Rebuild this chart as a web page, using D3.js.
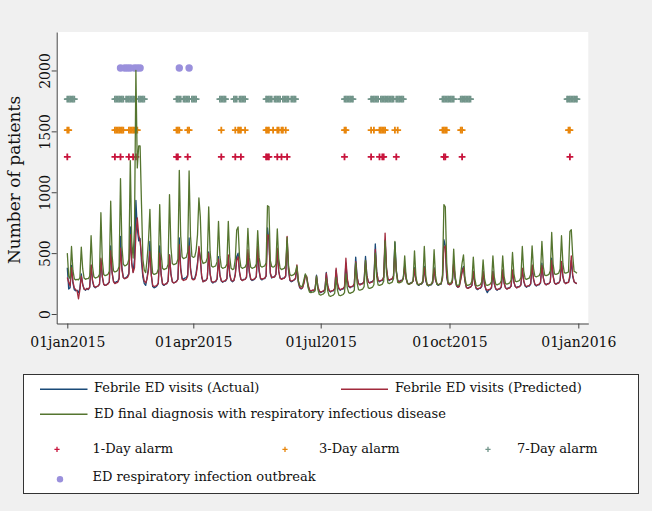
<!DOCTYPE html>
<html><head><meta charset="utf-8">
<script src="https://cdn.jsdelivr.net/npm/d3@7"></script>
<style>
body{margin:0;background:#f0f0f0}
svg{display:block}
text{font-family:"DejaVu Serif",serif;fill:#111}
</style>
</head><body>
<svg id="chart" width="652" height="511"></svg>
<script>
// ---------- DATA (daily, starting 01jan2015) ----------
const startYear = 2015;
const actual = [
380,205,215,
400,255,200,190,195,175,210,
330,240,205,195,210,200,220,
400,270,225,215,225,230,245,
445,305,245,235,240,250,260,
560,340,270,255,265,265,295,
637,385,300,290,300,310,335,
715,420,345,450,934,700,600,
620,430,300,250,235,300,385,
596,320,225,215,220,230,250,
560,330,245,235,245,250,270,
486,330,265,255,260,270,285,
624,380,295,285,295,300,320,
624,380,295,285,290,335,420,
540,470,300,265,275,275,295,
510,330,265,255,265,265,285,
472,320,270,260,270,270,290,
465,320,275,265,275,330,470,
500,340,285,275,285,285,300,
500,340,285,275,280,290,305,
520,350,290,280,290,290,310,
707,600,330,295,305,305,325,
520,350,295,285,295,295,310,
600,360,275,265,270,280,290,
380,260,215,205,215,260,320,
300,230,195,185,195,190,205,
320,220,185,175,185,185,200,
341,230,190,180,190,190,205,
360,245,205,195,205,205,220,
418,275,225,215,225,225,245,
467,305,250,240,250,250,270,
473,315,265,255,265,265,285,
575,350,275,265,275,275,300,
607,370,285,275,285,285,310,
589,360,275,265,275,275,295,
400,290,255,245,255,255,270,
380,280,245,235,245,245,260,
390,275,240,230,240,240,255,
380,280,245,235,245,245,300,
610,560,300,245,245,245,260,
420,290,230,220,230,290,360,
390,270,220,210,220,220,235,
350,250,210,200,210,210,225,
345,240,200,175,195,200,215,
350,245,205,195,205,205,220,
360,255,215,205,215,215,230,
355,260,225,215,225,225,240,
370,270,230,220,230,230,245,
395,285,240,230,240,240,255,
418,300,250,240,250,250,265,
459,315,255,245,255,255,275,
420,305,260,250,260,260,300,
440,310,265,255,250
];
const predicted = [
300,260,230,
380,270,215,200,190,125,200,
310,245,205,200,210,205,220,
404,280,230,220,225,230,245,
459,310,245,235,240,245,265,
520,340,265,250,255,260,285,
541,360,300,290,295,300,325,
651,420,340,380,650,789,650,
600,480,330,270,255,290,360,
514,320,235,225,230,235,255,
500,325,250,240,245,250,270,
486,330,265,255,260,265,285,
569,360,285,275,280,285,310,
560,365,290,280,285,320,400,
555,450,310,265,270,275,295,
500,330,270,260,265,270,290,
450,320,275,265,270,275,290,
486,330,280,270,275,320,440,
470,350,285,275,280,285,305,
528,355,290,280,285,290,310,
560,365,295,285,290,295,315,
651,640,340,300,300,305,325,
540,355,295,285,290,295,315,
638,370,280,270,275,280,295,
404,270,220,210,215,250,310,
310,240,200,190,195,195,210,
310,225,190,180,185,190,205,
335,235,195,185,190,195,210,
376,255,210,200,205,210,225,
458,290,230,220,225,230,250,
430,300,250,240,245,250,270,
440,310,265,255,260,265,285,
530,345,280,270,275,280,305,
665,380,290,280,285,290,315,
530,350,275,265,270,275,295,
380,290,255,245,250,255,270,
370,280,250,240,245,250,265,
380,280,245,235,240,245,260,
370,280,250,240,245,250,290,
541,560,320,250,240,245,260,
418,300,235,220,225,280,340,
380,275,220,210,215,220,235,
349,255,215,205,210,215,230,
350,245,205,195,200,205,220,
349,250,210,200,205,210,225,
362,255,215,205,210,215,230,
362,265,225,215,220,225,240,
376,275,235,225,230,235,250,
404,290,245,235,240,245,260,
400,295,250,240,245,250,265,
440,310,255,245,250,255,275,
432,310,260,250,255,260,320,
478,320,265,255,250
];
const respiratory = [
500,310,290,
555,360,290,280,285,280,300,
550,370,295,285,290,290,310,
643,390,305,295,300,305,325,
832,440,325,315,320,325,350,
926,480,355,345,350,360,390,
1112,560,410,395,400,410,450,
1260,600,460,700,2000,1200,1380,
1380,900,450,360,340,450,600,
860,470,335,325,330,335,370,
899,500,375,365,370,375,410,
981,550,415,405,410,415,450,
1180,640,470,455,460,465,510,
1175,640,475,465,470,520,650,
954,800,450,415,420,425,460,
880,510,395,385,390,395,430,
761,475,385,375,380,385,410,
761,470,375,365,370,450,690,
715,470,385,375,380,385,410,
704,465,385,375,380,385,410,
685,465,395,385,390,395,420,
890,880,440,390,385,390,410,
698,455,375,365,370,375,400,
630,400,325,315,320,325,345,
395,275,235,225,230,280,330,
300,215,180,175,180,180,190,
310,200,160,155,160,165,180,
290,190,150,145,150,155,170,
300,195,155,150,155,160,175,
330,215,175,170,175,180,195,
420,255,200,195,200,205,225,
440,270,215,210,215,220,240,
500,305,240,235,240,245,270,
600,340,255,250,255,260,290,
596,345,260,255,260,265,290,
478,305,250,245,250,255,275,
519,310,245,240,245,250,275,
555,320,240,235,240,245,275,
528,315,245,240,245,250,320,
899,880,420,260,250,255,280,
533,315,240,235,240,330,420,
486,300,240,235,240,245,270,
467,295,235,230,235,240,265,
445,290,240,235,240,245,265,
478,305,245,240,245,250,275,
478,310,250,245,250,255,280,
505,330,270,265,270,275,300,
555,355,290,285,290,295,325,
560,375,310,305,310,315,340,
597,390,320,315,320,325,355,
670,410,330,325,330,335,370,
643,415,340,335,340,345,679,
692,480,350,345,335
];
// alarm days (day index from 01jan2015)
const alarm1Day = [0,34,38,44,47,49,78,79,86,110,120,124,142,143,144,150,153,157,198,217,223,225,226,235,269,270,282,359];
const alarm3Day = [0,1,34,35,36,37,38,39,40,44,45,46,47,48,49,50,78,79,80,86,87,110,120,122,123,124,127,142,143,144,147,150,151,153,154,156,198,199,217,219,223,224,225,226,227,234,236,268,269,270,271,281,282,358,359];
const alarm7Day = [0,1,2,3,4,5,
34,35,36,37,38,39,40,42,43,44,45,46,47,48,49,51,52,53,54,55,
78,79,80,81,83,84,85,86,87,89,90,91,92,
109,110,111,112,113,119,120,121,123,124,125,126,127,
142,143,144,145,146,148,149,150,151,152,154,155,156,157,158,160,161,162,163,
198,199,200,201,202,203,204,
217,218,219,220,221,222,224,225,226,227,228,229,230,231,232,233,235,236,237,238,239,240,
268,269,270,271,272,273,274,275,276,281,282,283,284,285,286,287,288,
357,358,359,360,361,362,363,364];
const outbreakDays = [38,41,43,45,48,50,52,80,87];
// value level at which each marker row is plotted
const rowValue1 = 1290, rowValue3 = 1510, rowValue7 = 1765, rowValueOutbreak = 2020;
const yTicks = [0,500,1000,1500,2000];
const xTickDates = ["2015-01-01","2015-04-01","2015-07-01","2015-10-01","2016-01-01"];
const xTickLabels = ["01jan2015","01apr2015","01jul2015","01oct2015","01jan2016"];
const legendLabels = ["Febrile ED visits (Actual)","Febrile ED visits (Predicted)","ED final diagnosis with respiratory infectious disease","1-Day alarm","3-Day alarm","7-Day alarm","ED respiratory infection outbreak"];

// ---------- DRAW ----------
const DAY = 864e5;
const t0 = Date.UTC(startYear,0,1);
const dateOf = i => new Date(t0 + i*DAY);
const C = {blue:"#1a4a78", red:"#a12a3c", green:"#55752f", a1:"#c8143c", a3:"#e8860c", a7:"#72958a", ob:"#9a90dc", axis:"#444"};
const P = {l:56.7, r:588.3, t:32, b:323.5};

const svg = d3.select("#chart");
svg.append("rect").attr("width",652).attr("height",511).attr("fill","#f0f0f0");
svg.append("rect").attr("x",P.l).attr("y",P.t).attr("width",P.r-P.l).attr("height",P.b-P.t).attr("fill","#fff");

const x = d3.scaleUtc().domain([new Date(t0-7.57*DAY), new Date(t0+372.14*DAY)]).range([P.l,P.r]);
const y = d3.scaleLinear().domain([-78,2316]).range([P.b,P.t]);

// y axis
const ya = svg.append("g").attr("transform",`translate(${P.l},0)`)
  .call(d3.axisLeft(y).tickValues(yTicks).tickSize(5).tickSizeOuter(0).tickFormat(d3.format("d")));
ya.selectAll("path,line").attr("stroke",C.axis);
ya.selectAll("text").attr("font-size",14).attr("font-family","DejaVu Serif")
  .attr("transform","rotate(-90)").attr("x",0).attr("y",-7).attr("dy",0).attr("text-anchor","middle").attr("fill","#111");

// x axis
const xa = svg.append("g").attr("transform",`translate(0,${P.b})`)
  .call(d3.axisBottom(x).tickValues(xTickDates.map(s=>new Date(s+"T00:00:00Z"))).tickSize(5).tickSizeOuter(0)
    .tickFormat((d,i)=>xTickLabels[i]));
xa.selectAll("path,line").attr("stroke",C.axis);
xa.selectAll("text").attr("font-size",14).attr("font-family","DejaVu Serif").attr("y",23).attr("dy",0).attr("fill","#111");

// y title
svg.append("text").attr("transform","translate(20,180) rotate(-90)").attr("text-anchor","middle")
  .attr("font-size",17).text("Number of patients");

// markers
const plus = s => `M${-s},0H${s}M0,${-s}V${s}`;
function plusRow(days, val, col){
  svg.append("g").selectAll("path").data(days).join("path")
    .attr("d",plus(3.4)).attr("transform",d=>`translate(${x(dateOf(d))},${y(val)})`)
    .attr("stroke",col).attr("stroke-width",1.8).attr("fill","none");
}
plusRow(alarm7Day,rowValue7,C.a7);
plusRow(alarm3Day,rowValue3,C.a3);
plusRow(alarm1Day,rowValue1,C.a1);
svg.append("g").selectAll("circle").data(outbreakDays).join("circle")
  .attr("cx",d=>x(dateOf(d))).attr("cy",y(rowValueOutbreak)).attr("r",3.7).attr("fill",C.ob);

// lines
const line = d3.line().x((d,i)=>x(dateOf(i))).y(d=>y(d));
[[actual,C.blue],[predicted,C.red],[respiratory,C.green]].forEach(([arr,col])=>{
  svg.append("path").datum(arr).attr("d",line).attr("fill","none").attr("stroke",col)
    .attr("stroke-width",1.3).attr("stroke-linejoin","round");
});

// legend
const lg = svg.append("g");
lg.append("rect").attr("x",23.5).attr("y",374.5).attr("width",615).attr("height",119).attr("fill","#fff").attr("stroke","#333").attr("stroke-width",1);
const fs = 13;
function lineItem(x1,x2,ly,tx,ty,col,label){
  lg.append("line").attr("x1",x1).attr("x2",x2).attr("y1",ly).attr("y2",ly).attr("stroke",col).attr("stroke-width",1.5);
  lg.append("text").attr("x",tx).attr("y",ty).attr("font-size",fs).text(label);
}
lineItem(40,87.5,389.3,94,391.5,C.blue,legendLabels[0]);
lineItem(341,388,389.3,395,391.5,C.red,legendLabels[1]);
lineItem(40,87.5,414.3,94,417.5,C.green,legendLabels[2]);
function plusItem(mx,my,tx,ty,col,label){
  lg.append("path").attr("d",plus(2.6)).attr("transform",`translate(${mx},${my})`).attr("stroke",col).attr("stroke-width",1.3).attr("fill","none");
  lg.append("text").attr("x",tx).attr("y",ty).attr("font-size",fs).text(label);
}
plusItem(57,449.3,92.5,452.5,C.a1,legendLabels[3]);
plusItem(285,449.3,319,452.5,C.a3,legendLabels[4]);
plusItem(488,449.3,517,452.5,C.a7,legendLabels[5]);
lg.append("circle").attr("cx",60).attr("cy",479.3).attr("r",3.2).attr("fill",C.ob);
lg.append("text").attr("x",92.5).attr("y",480.5).attr("font-size",fs).text(legendLabels[6]);
</script>
</body></html>
